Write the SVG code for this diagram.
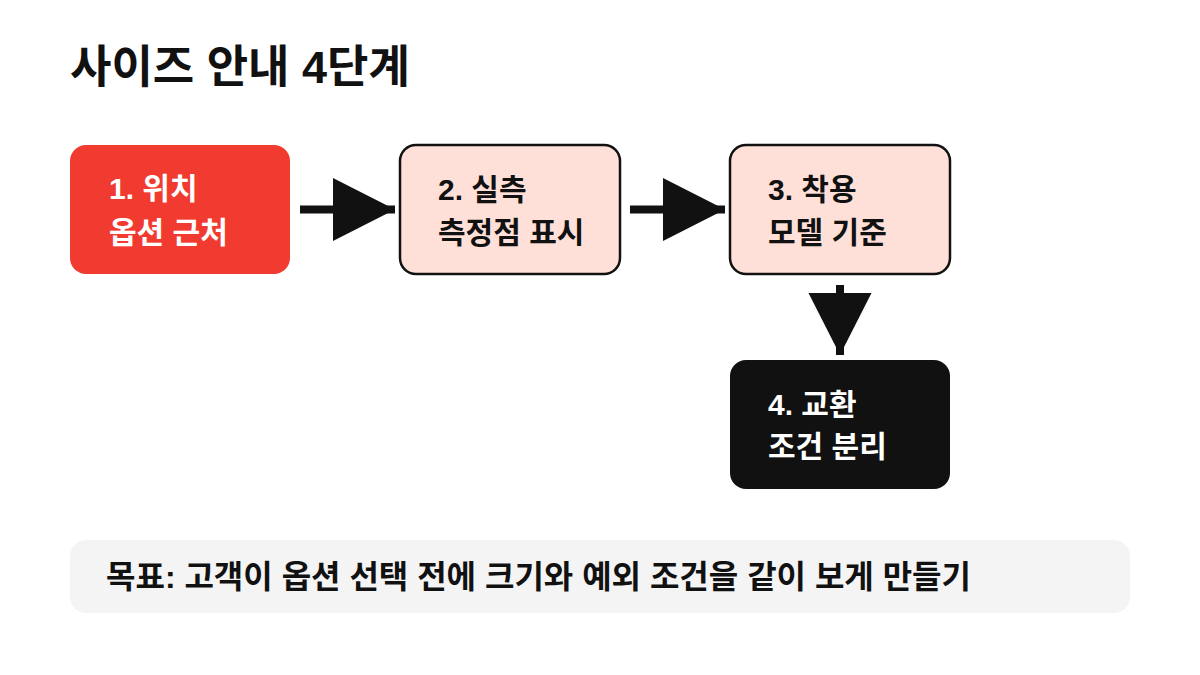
<svg xmlns="http://www.w3.org/2000/svg" width="1200" height="675" viewBox="0 0 1200 675">
<style>
text{font-family:"Liberation Sans","Noto Sans CJK KR",sans-serif;font-weight:700}
.t{font-size:45px;fill:#111}
.lbl{font-size:30px}
.goal{font-size:32px;fill:#111}
.dark{fill:#111}
.light{fill:#fff}
.pink{fill:#FFE0D8;stroke:#111;stroke-width:2.5}
.conn{stroke:#111;stroke-width:8;fill:none;marker-end:url(#ah)}
</style>
<defs>
<marker id="ah" markerUnits="userSpaceOnUse" markerWidth="64" markerHeight="64" refX="62" refY="31.5" orient="auto" viewBox="0 0 64 64">
<path d="M0,0 L62,31.5 L0,63 Z" fill="#111"/>
</marker>
</defs>
<rect width="1200" height="675" fill="#fff"/>
<text class="t" x="70" y="83">사이즈 안내 4단계</text>
<g id="connectors">
<line class="conn" x1="300" y1="209.5" x2="395" y2="209.5"/>
<line class="conn" x1="630" y1="209.5" x2="725" y2="209.5"/>
<line class="conn" x1="840" y1="285" x2="840" y2="355"/>
</g>
<g id="n1">
<rect x="70" y="145" width="220" height="129" rx="16" fill="#F23B30"/>
<text class="lbl light" x="109" y="199">1. 위치</text>
<text class="lbl light" x="109" y="243">옵션 근처</text>
</g>
<g id="n2">
<rect class="pink" x="400" y="145" width="220" height="129" rx="16"/>
<text class="lbl dark" x="438" y="200">2. 실측</text>
<text class="lbl dark" x="438" y="243">측정점 표시</text>
</g>
<g id="n3">
<rect class="pink" x="730" y="145" width="220" height="129" rx="16"/>
<text class="lbl dark" x="768" y="200">3. 착용</text>
<text class="lbl dark" x="768" y="243">모델 기준</text>
</g>
<g id="n4">
<rect x="730" y="360" width="220" height="129" rx="16" fill="#111"/>
<text class="lbl light" x="768" y="415">4. 교환</text>
<text class="lbl light" x="768" y="457">조건 분리</text>
</g>
<g id="goal">
<rect x="70" y="540" width="1060" height="73" rx="16" fill="#F4F4F4"/>
<text class="goal" x="106" y="588">목표: 고객이 옵션 선택 전에 크기와 예외 조건을 같이 보게 만들기</text>
</g>
</svg>
